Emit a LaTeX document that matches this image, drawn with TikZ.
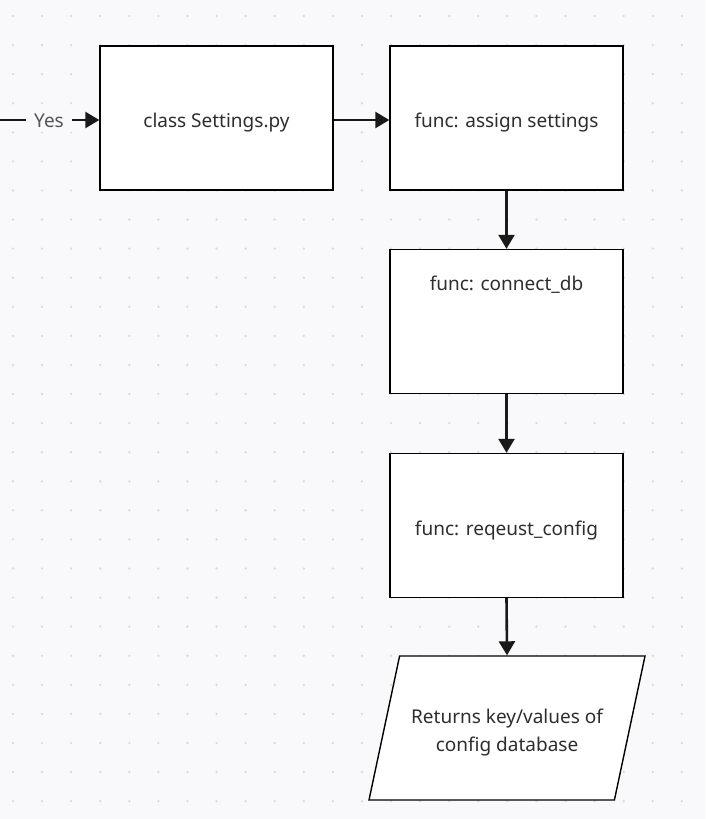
\documentclass[tikz,border=0pt]{standalone}
\usepackage{fontspec}
\setmainfont{Noto Sans}
\usetikzlibrary{shapes.geometric,arrows.meta}
\definecolor{boardbg}{HTML}{F9F9FB}
\definecolor{griddot}{HTML}{DADADE}
\definecolor{inktext}{HTML}{2E2E2E}
\definecolor{labelgray}{HTML}{555555}

\begin{document}
\begin{tikzpicture}[x=1pt,y=-1pt]
\tikzstyle{shapebase}=[draw, line width=1.4pt, fill=white,
  minimum height=144pt, inner sep=0pt,
  text=inktext, font=\fontsize{19}{28}\selectfont]
\tikzstyle{procbox}=[shapebase, minimum width=233pt,
  text height=23pt, text depth=4pt]
\tikzstyle{iobox}=[shapebase, trapezium, trapezium left angle=78,
  trapezium right angle=102, trapezium stretches body,
  minimum height=0pt, minimum width=276pt, align=center]
\tikzstyle{flow}=[line width=2.6pt, draw=black!90,
  -{Triangle[length=14pt,width=16pt]}]
% background and dot grid
\fill[boardbg] (0,0) rectangle (705,819);
\useasboundingbox (0,0) rectangle (705,819);
\foreach \i in {0,...,24}
  \foreach \j in {0,...,27}
    \fill[griddot] (13+29.08*\i,16+29.08*\j) circle (1.3pt);
% nodes
\node[procbox] (settings) at (216.5,118) {class Settings.py};
\node[procbox] (assign) at (506.5,118) {func: assign settings};
\node[procbox, text height=14pt, text depth=77pt] (connect) at (506.5,321.5) {func: connect\_db};
\node[procbox] (request) at (506.5,525.5) {func: reqeust\_config};
\node[iobox] (result) at (507,728)
  {\rule{0pt}{67pt}Returns key/values of\\config database\rule[-49pt]{0pt}{0pt}};
\coordinate (yesstart) at (0,120);
\node[text=labelgray, font=\fontsize{19}{28}\selectfont, inner sep=0pt,
  fill=boardbg, minimum width=46pt, minimum height=22pt] (yes) at (49,121) {Yes};
% connectors
\draw[line width=2.6pt, draw=black!90] (yesstart) -- (yes.west |- yesstart);
\draw[flow] (yes.east |- yesstart) -- (settings.west |- yesstart);
\draw[flow] (settings.east |- yesstart) -- (assign.west |- yesstart);
\draw[flow] (assign.south) -- (connect.north);
\draw[flow] (connect.south) -- (request.north);
\draw[flow] (request.south) -- (result.north);
\end{tikzpicture}
\end{document}
